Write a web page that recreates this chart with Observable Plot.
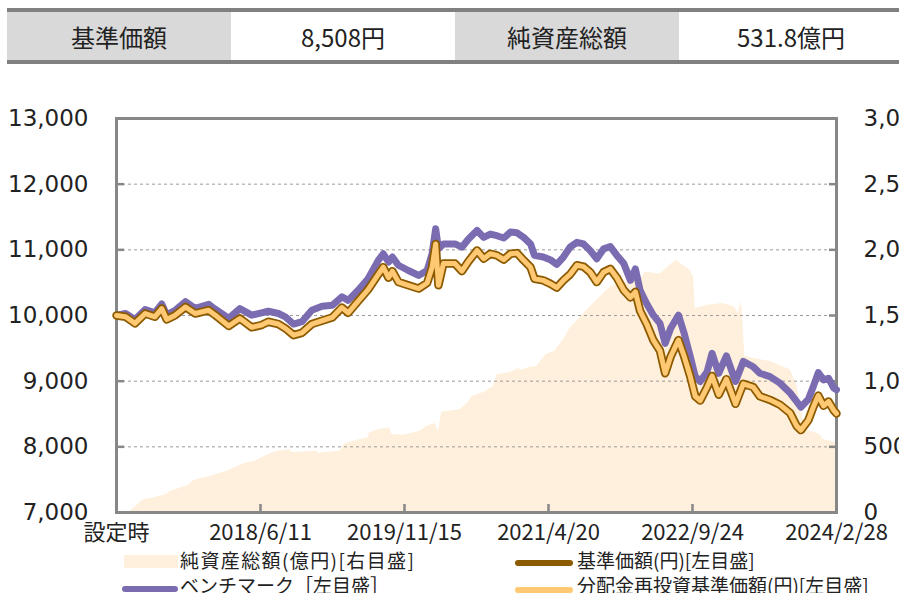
<!DOCTYPE html>
<html><head><meta charset="utf-8">
<script src="https://cdn.jsdelivr.net/npm/d3@7"></script>
<script src="https://cdn.jsdelivr.net/npm/@observablehq/plot@0.6"></script>
<style>
body{margin:0;background:#fff;width:899px;height:593px;overflow:hidden;position:relative;font-family:"Noto Sans CJK JP",sans-serif;}
#hdr{position:absolute;left:7px;top:8px;width:900px;height:48px;border-top:4px solid #808080;border-bottom:4px solid #808080;display:flex;}
.c{width:224px;height:48px;display:flex;align-items:center;justify-content:center;font-size:24px;color:#222;}
.g{background:#d9d9d9}
#chart{position:absolute;left:0;top:64px;}
.sw{position:absolute;}
.lt{position:absolute;font-size:19px;line-height:22px;color:#222;white-space:nowrap;}
</style></head>
<body>
<div id="hdr">
  <div class="c g">基準価額</div><div class="c">8,508円</div><div class="c g">純資産総額</div><div class="c">531.8億円</div>
</div>
<div id="chart"></div>
<div class="sw" style="left:124px;top:555px;width:54px;height:13px;background:#fef0dc"></div>
<div class="lt" style="left:180px;top:549px;letter-spacing:1.4px">純資産総額(億円)[右目盛]</div>
<div class="sw" style="left:515px;top:560px;width:58px;height:6px;border-radius:3px;background:#8c5a00"></div>
<div class="lt" style="left:577px;top:549px">基準価額(円)[左目盛]</div>
<div class="sw" style="left:122px;top:586px;width:56px;height:6px;border-radius:3px;background:#7b6bb1"></div>
<div class="lt" style="left:180px;top:574px">ベンチマーク［左目盛］</div>
<div class="sw" style="left:515px;top:587px;width:58px;height:6px;border-radius:3px;background:#ffc872"></div>
<div class="lt" style="left:577px;top:574px">分配金再投資基準価額(円)[左目盛]</div>
<script>
const dates = ["2017-01-05","2017-02-07","2017-03-13","2017-04-19","2017-05-24","2017-06-18","2017-07-06","2017-08-06","2017-09-12","2017-10-17","2017-12-05","2017-12-29","2018-02-16","2018-03-28","2018-05-10","2018-06-15","2018-07-09","2018-08-15","2018-09-09","2018-10-09","2018-11-08","2018-12-14","2019-01-20","2019-02-26","2019-04-02","2019-04-25","2019-05-31","2019-07-06","2019-08-12","2019-08-30","2019-09-18","2019-10-02","2019-10-24","2019-11-29","2020-01-05","2020-02-05","2020-02-23","2020-03-07","2020-03-17","2020-04-04","2020-05-16","2020-06-10","2020-07-04","2020-08-04","2020-08-28","2020-09-21","2020-10-15","2020-11-09","2020-12-03","2020-12-27","2021-01-20","2021-02-14","2021-02-28","2021-04-01","2021-04-26","2021-05-20","2021-06-13","2021-07-07","2021-08-01","2021-08-25","2021-09-18","2021-10-12","2021-11-06","2021-11-30","2021-12-24","2022-01-18","2022-02-11","2022-03-01","2022-03-18","2022-04-11","2022-05-05","2022-05-29","2022-06-17","2022-07-07","2022-08-04","2022-08-25","2022-09-16","2022-10-04","2022-10-22","2022-11-16","2022-12-04","2022-12-28","2023-01-25","2023-02-27","2023-03-27","2023-05-02","2023-05-26","2023-07-02","2023-08-07","2023-09-13","2023-10-07","2023-10-22","2023-11-18","2023-12-06","2023-12-24","2024-01-12","2024-01-30","2024-02-18","2024-02-28"];
const nav = [10000,9980,9880,10030,9980,10105,9940,10005,10130,10030,10080,10005,9840,9955,9820,9855,9905,9870,9805,9700,9735,9870,9920,9970,10120,10040,10220,10395,10625,10735,10575,10675,10510,10460,10410,10495,10735,11090,10460,10790,10790,10675,10825,10990,10865,10940,10915,10850,10940,10950,10840,10735,10560,10535,10485,10425,10535,10625,10765,10745,10660,10510,10660,10710,10575,10385,10275,10360,10070,9870,9625,9465,9120,9375,9625,9375,9070,8770,8705,8910,9080,8795,9030,8655,8960,8910,8770,8715,8640,8515,8315,8255,8405,8605,8780,8625,8690,8555,8508];
const benchmark = [10000,10030,9940,10090,10040,10175,10010,10080,10210,10110,10170,10095,9955,10105,10005,10040,10065,10030,9980,9870,9905,10080,10140,10155,10285,10230,10385,10560,10840,10940,10815,10890,10765,10685,10610,10685,10940,11320,11015,11090,11090,11040,11165,11295,11190,11240,11215,11180,11270,11260,11190,11090,10915,10890,10850,10780,10890,11040,11115,11090,10990,10865,11015,11050,10915,10790,10535,10710,10385,10180,10005,9880,9575,9805,10005,9725,9375,9070,8995,9145,9425,9120,9385,8995,9300,9220,9120,9070,8970,8820,8690,8605,8725,8920,9130,9020,9045,8895,8870];
// 分配実績なし：分配金再投資基準価額は基準価額と同値
const reinvested = nav.slice();
const assetDates = ["2017-01-05","2017-02-19","2017-03-13","2017-04-13","2017-05-18","2017-07-06","2017-07-18","2017-09-23","2017-10-11","2017-12-11","2018-02-10","2018-04-10","2018-05-22","2018-07-03","2018-08-09","2018-09-27","2018-10-02","2018-11-14","2019-01-02","2019-01-07","2019-03-26","2019-04-13","2019-06-07","2019-07-06","2019-07-11","2019-08-18","2019-09-24","2019-09-29","2019-11-11","2020-01-11","2020-02-05","2020-03-05","2020-03-17","2020-03-29","2020-06-04","2020-07-04","2020-07-16","2020-08-28","2020-10-03","2020-10-15","2020-12-03","2021-01-02","2021-01-08","2021-02-14","2021-03-08","2021-04-14","2021-05-13","2021-06-13","2021-07-07","2021-09-06","2021-10-12","2021-11-18","2021-12-06","2022-02-11","2022-03-25","2022-04-05","2022-05-29","2022-07-10","2022-07-28","2022-08-22","2022-09-16","2022-09-28","2022-10-04","2022-11-16","2023-01-11","2023-02-21","2023-03-09","2023-03-21","2023-04-02","2023-05-02","2023-07-02","2023-09-13","2023-10-07","2023-11-06","2023-12-30","2024-01-12","2024-02-28"];
const assets = [0,0,40,97,110,137,160,206,244,274,315,371,391,434,464,477,457,460,467,452,467,523,555,568,606,636,644,593,588,619,657,677,619,763,783,838,884,914,960,1048,1066,1098,1081,1106,1111,1207,1225,1313,1401,1540,1616,1692,1722,1760,1790,1831,1815,1894,1919,1880,1843,1793,1553,1578,1591,1566,1515,1613,1187,1174,1149,1086,972,631,593,555,532];
const tickDates = ["2017-01-05","2018-06-11","2019-11-15","2021-04-20","2022-09-24","2024-02-28"];
const tickLabels = ["設定時","2018/6/11","2019/11/15","2021/4/20","2022/9/24","2024/2/28"];
const leftTicks = [7000,8000,9000,10000,11000,12000,13000];
const rightTicks = [0,500,1000,1500,2000,2500,3000];

const parse = d3.utcParse("%Y-%m-%d");
const navData = dates.map((d,i)=>({date:parse(d), nav:nav[i], bm:benchmark[i], re:reinvested[i]}));
const assetData = assetDates.map((d,i)=>({date:parse(d), v:assets[i]}));
const toLeft = v => 7000 + v*2; // 右目盛(0〜3,000) → 左目盛(7,000〜13,000)
const fromLeft = v => (v-7000)/2;
const tickObjs = tickDates.map(parse);
const labelMap = new Map(tickObjs.map((d,i)=>[+d, tickLabels[i]]));
const inner = [8000,9000,10000,11000,12000];
const axisCol = "#878787";

const plot = Plot.plot({
  width: 899, height: 480,
  marginTop: 54, marginBottom: 32, marginLeft: 116, marginRight: 63,
  style: {background:"transparent", color:"#222"},
  x: {type:"utc", domain:[tickObjs[0], tickObjs[tickObjs.length-1]]},
  y: {domain:[7000,13000]},
  marks: [
    Plot.areaY(assetData, {x:"date", y1:7000, y2:d=>toLeft(d.v), fill:"#fef0dc"}),
    Plot.gridY(inner, {stroke:"#9a9a9a", strokeOpacity:1, strokeWidth:1, strokeDasharray:"3,3"}),
    Plot.axisY(inner, {anchor:"left", tickSize:8, dx:8, tickFormat:()=>"", stroke:axisCol, strokeWidth:2.5, label:null}),
    Plot.axisY(inner, {anchor:"right", tickSize:8, dx:-8, tickFormat:()=>"", stroke:axisCol, strokeWidth:2.5, label:null}),
    Plot.axisX(tickObjs.slice(1,-1), {anchor:"bottom", tickSize:8, dy:-8, tickFormat:()=>"", stroke:axisCol, strokeWidth:2.5, label:null}),
    Plot.frame({stroke:axisCol, strokeWidth:3}),
    Plot.line(navData, {x:"date", y:"bm", stroke:"#7b6bb1", strokeWidth:7}),
    Plot.line(navData, {x:"date", y:"nav", stroke:"#8c5a00", strokeWidth:8.5}),
    Plot.line(navData, {x:"date", y:"re", stroke:"#ffc872", strokeWidth:5}),
    Plot.axisY(leftTicks, {anchor:"left", tickSize:0, tickPadding:28, tickFormat:d3.format(","), fontSize:23, fontFamily:"DejaVu Sans", label:null}),
    Plot.axisY(rightTicks.map(toLeft), {anchor:"right", tickSize:0, tickPadding:27, tickFormat:d=>d3.format(",")(fromLeft(d)), fontSize:23, fontFamily:"DejaVu Sans", label:null}),
    Plot.axisX(tickObjs, {anchor:"bottom", tickSize:0, tickPadding:12, tickFormat:d=>labelMap.get(+d), fontSize:22, fontFamily:"Noto Sans CJK JP", label:null})
  ]
});
document.getElementById("chart").appendChild(plot);
</script>
</body></html>
